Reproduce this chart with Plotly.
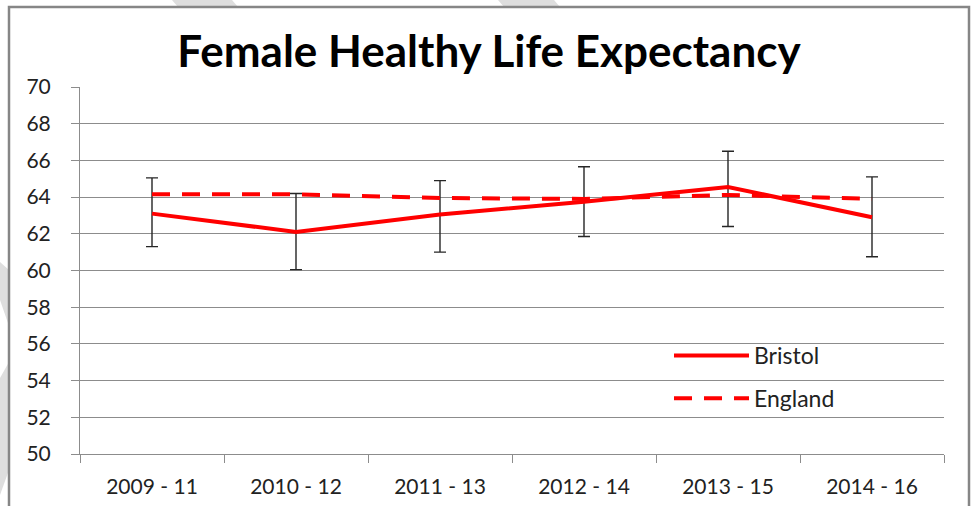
import plotly.graph_objects as go

periods = ["2009 - 11", "2010 - 12", "2011 - 13", "2012 - 14", "2013 - 15", "2014 - 16"]
bristol = [63.1, 62.1, 63.05, 63.75, 64.55, 62.9]
bristol_upper = [65.05, 64.2, 64.9, 65.65, 66.5, 65.1]
bristol_lower = [61.3, 60.05, 61.0, 61.85, 62.4, 60.75]
england = [64.15, 64.15, 63.95, 63.9, 64.12, 63.9]

err_plus = [u - v for u, v in zip(bristol_upper, bristol)]
err_minus = [v - l for v, l in zip(bristol, bristol_lower)]

W, H = 972, 506
L, R, T, B = 80, 28, 87, 52
PW, PH = W - L - R, H - T - B


def px(x):
    return (x - L) / PW


def py(y):
    return (H - B - y) / PH


fig = go.Figure()
fig.add_trace(go.Scatter(
    x=periods, y=bristol, name="Bristol", mode="lines",
    line=dict(color="#ff0000", width=4),
    error_y=dict(type="data", symmetric=False, array=err_plus, arrayminus=err_minus,
                 color="#262626", thickness=1.4, width=6),
    legendgroup="a",
))
fig.add_trace(go.Scatter(
    x=periods, y=england, name="England", mode="lines",
    line=dict(color="#ff0000", width=4, dash="18px,12px"),
    legendgroup="b",
))

font_main = "Lato"
shapes = []
# watermark fragments (outside chart border)
stripe = "#dedede"
for poly in [
    [(172, 0), (232, 0), (238, 7), (178, 7)],
    [(498, 0), (554, 0), (560, 7), (504, 7)],
    [(0, 262), (9, 270), (9, 326), (0, 300)],
    [(0, 378), (9, 362), (9, 470), (0, 495)],
]:
    path = "M " + " L ".join(f"{px(a)},{py(b)}" for a, b in poly) + " Z"
    shapes.append(dict(type="path", xref="paper", yref="paper", path=path,
                       fillcolor=stripe, line=dict(width=0), layer="below"))
# chart border
shapes.append(dict(type="rect", xref="paper", yref="paper",
                   x0=px(9), x1=px(969), y0=py(7), y1=py(530),
                   fillcolor="white", line=dict(color="#868686", width=2.5), layer="below"))

fig.update_layout(
    width=W, height=H,
    margin=dict(l=L, r=R, t=T, b=B, pad=0, autoexpand=False),
    paper_bgcolor="white", plot_bgcolor="rgba(0,0,0,0)",
    title=dict(text="<b>Female Healthy Life Expectancy</b>", x=489 / W, xref="container",
               xanchor="center", y=1 - 52 / H, yref="container", yanchor="middle",
               font=dict(family=font_main, size=44, color="black")),
    showlegend=True,
    legend=dict(x=px(669), y=py(334), xanchor="left", yanchor="top",
                bgcolor="rgba(0,0,0,0)", itemwidth=75, tracegroupgap=10,
                font=dict(family=font_main, size=23, color="#222222"),
                traceorder="grouped"),
    shapes=shapes,
    xaxis=dict(
        type="category", range=[-0.5, 5.5], showgrid=False,
        showline=True, linecolor="#8c8c8c", linewidth=1,
        ticks="outside", tickson="boundaries", ticklen=8, tickcolor="#8c8c8c",
        tickfont=dict(family=font_main, size=21, color="#222222"),
        ticklabelstandoff=14, fixedrange=True, automargin=False,
    ),
    yaxis=dict(
        range=[50, 70], dtick=2, tick0=50,
        showgrid=True, gridcolor="#8c8c8c", gridwidth=1,
        showline=True, linecolor="#8c8c8c", linewidth=1,
        ticks="outside", ticklen=8, tickcolor="#8c8c8c",
        tickfont=dict(family=font_main, size=21, color="#222222"),
        ticklabelstandoff=16, zeroline=False, fixedrange=True, automargin=False,
    ),
)

fig.write_html("out.html", config={"displayModeBar": False},
               post_script="document.body.style.margin='0';")
